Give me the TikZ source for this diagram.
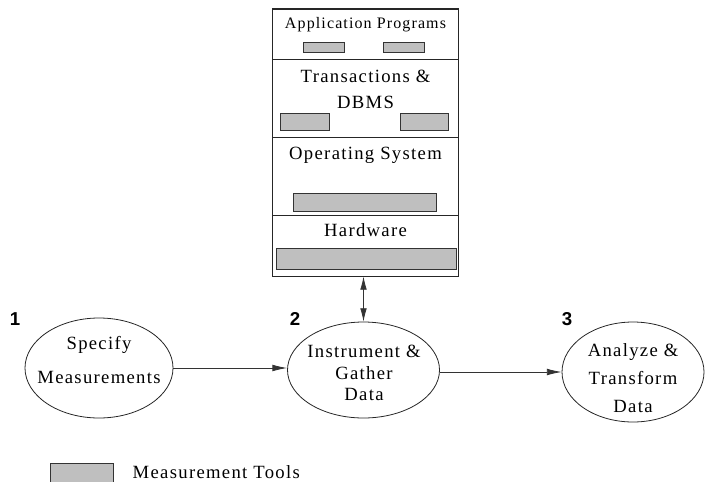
\documentclass[tikz,border=0pt]{standalone}
\usepackage{fontspec}
\setmainfont{Liberation Serif}
\newfontfamily\diagfont[LetterSpace=7]{Liberation Serif}
\newfontfamily\numfont{Liberation Sans}
\usetikzlibrary{positioning,shapes.geometric,arrows.meta}

\begin{document}
\begin{tikzpicture}[x=0.75pt,y=-0.75pt,
layerbox/.style={rectangle, draw=black!85, semithick, minimum width=139pt, inner sep=0pt},
toolbox/.style={rectangle, draw=black!80, fill=black!25, semithick, inner sep=0pt},
phasenode/.style={ellipse, draw=black!85, semithick, inner sep=0pt},
phasetext/.style={align=center, font=\diagfont\fontsize{14}{16}\selectfont},
phasenum/.style={font=\numfont\bfseries\fontsize{14}{16}\selectfont},
layertext/.style={font=\diagfont\fontsize{14}{19.5}\selectfont, align=center},
flow/.style={-{Latex[length=11pt,width=5pt]}, semithick, draw=black!80, fill=black!75},
]
\useasboundingbox (0,0) rectangle (705,481);

%Stack
\node[layerbox, minimum height=37.5pt]   (app) at (365.5,34)  {};
\node[layerbox, minimum height=58.5pt]   (trn) at (365.5,98)  {};
\node[layerbox, minimum height=58.5pt]   (os)  at (365.5,176) {};
\node[layerbox, minimum height=45.75pt]  (hw)  at (365.5,245.5) {};
\draw[black!85, thick] (app.north west) rectangle (hw.south east);

\node[layertext, font=\diagfont\fontsize{12}{14}\selectfont] (apptxt) at (365.5,25) {Application Programs};
\node[layertext] (trntxt) at (365.5,89) {Transactions \&\\DBMS};
\node[layertext] (ostxt)  at (365.5,155) {Operating System};
\node[layertext] (hwtxt)  at (365.5,230) {Hardware};

%Tools
\node[toolbox, minimum width=30.75pt, minimum height=7.5pt]  (app1) at (323.5,47)  {};
\node[toolbox, minimum width=30.75pt, minimum height=7.5pt]  (app2) at (403.5,47)  {};
\node[toolbox, minimum width=36.75pt, minimum height=12.75pt] (trn1) at (304.5,121.5) {};
\node[toolbox, minimum width=36pt, minimum height=12.75pt]   (trn2) at (424,121.5) {};
\node[toolbox, minimum width=107.25pt, minimum height=13.5pt] (os1)  at (364.5,202) {};
\node[toolbox, minimum width=135pt, minimum height=15.75pt]  (hw1)  at (366,258.5) {};

%Phases
\node[phasenode, minimum width=111pt, minimum height=75pt] (spec) at (99,368) {};
\node[phasenode, minimum width=114pt, minimum height=72pt] (inst) at (363.5,370) {};
\node[phasenode, minimum width=106.5pt, minimum height=75pt] (anal) at (633,372) {};

\node[phasetext, font=\diagfont\fontsize{14}{25.5}\selectfont] (spectxt) at (99,360) {Specify\\Measurements};
\node[phasetext] (insttxt) at (364,373) {Instrument \&\\Gather\\Data};
\node[phasetext, font=\diagfont\fontsize{14}{21}\selectfont] (analtxt) at (633,378) {Analyze \&\\Transform\\Data};

\node[phasenum] (n1) at (15,319)  {1};
\node[phasenum] (n2) at (295,319) {2};
\node[phasenum] (n3) at (567,319) {3};

%Legend
\node[toolbox, minimum width=47.25pt, minimum height=15.75pt] (leg) at (81.5,473.5) {};
\node[layertext, anchor=west] (legtxt) at (128,472) {Measurement Tools};

%Lines
\draw[flow] (spec.east) -- (inst.west |- spec.east);
\draw[flow] (inst.east |- anal.west) -- (anal.west);
\draw[flow, {Latex[length=10pt,width=5pt]}-{Latex[length=10pt,width=5pt]}] (hw.south -| inst.north) -- (inst.north);
\end{tikzpicture}
\end{document}
